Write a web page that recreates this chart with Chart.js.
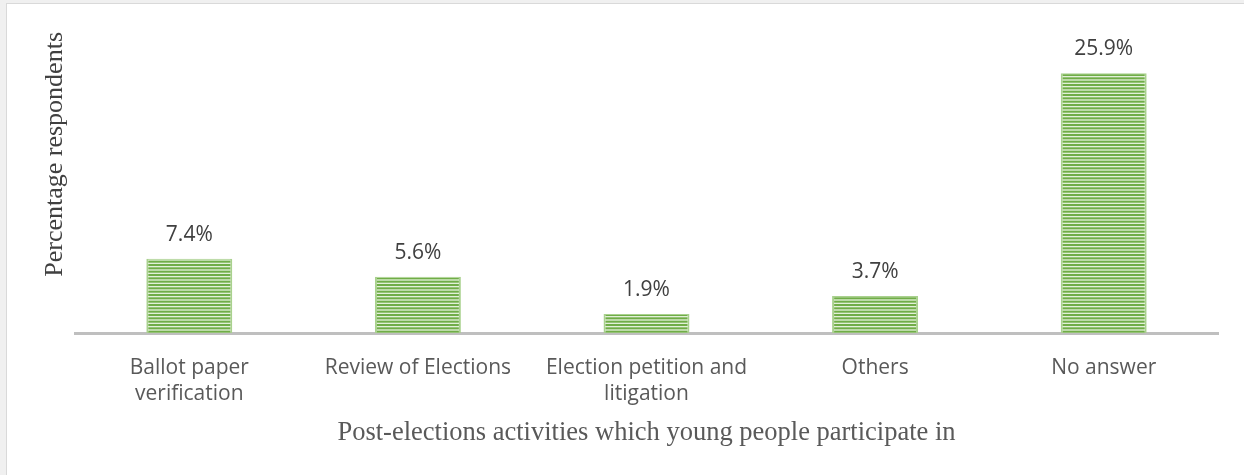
<!DOCTYPE html>
<html>
<head>
<meta charset="utf-8">
<script src="https://cdn.jsdelivr.net/npm/chart.js@4/dist/chart.umd.min.js"></script>
<style>
  html, body { margin: 0; padding: 0; background: #f0f0f0; overflow: hidden; }
  #panel {
    position: absolute; left: 6px; top: 3px;
    width: 1240px; height: 474px;
    background: #fff;
    border-left: 1px solid #d9d9d9; border-top: 1px solid #d9d9d9;
  }
  #chart { display: block; }
</style>
</head>
<body>
<div id="panel"><canvas id="chart" width="1237" height="471"></canvas></div>
<script>
const categories = [
  ["Ballot paper", "verification"],
  "Review of Elections",
  ["Election petition and", "litigation"],
  "Others",
  "No answer"
];
const shares = [7.4, 5.6, 1.9, 3.7, 25.9];

const yTitle = "Percentage respondents";
const xTitle = "Post-elections activities which young people participate in";

// horizontal stripe fill for the bars
function stripes() {
  const c = document.createElement("canvas");
  c.width = 8; c.height = 10;
  const g = c.getContext("2d");
  g.fillStyle = "#e2f0d9";
  g.fillRect(0, 0, 8, 10);
  g.fillStyle = "#70ad47";
  [0, 3.33, 6.67].forEach(y => g.fillRect(0, y, 8, 2));
  return g.createPattern(c, "repeat");
}

const valueLabels = {
  id: "valueLabels",
  afterDatasetsDraw(chart) {
    const ctx = chart.ctx;
    const meta = chart.getDatasetMeta(0);
    ctx.save();
    ctx.font = "21px 'Open Sans'";
    ctx.fillStyle = "#404040";
    ctx.textAlign = "center";
    ctx.textBaseline = "alphabetic";
    meta.data.forEach((bar, i) => {
      ctx.fillText(shares[i].toFixed(1) + "%", bar.x, bar.y - 18);
    });
    ctx.restore();
  }
};

new Chart(document.getElementById("chart"), {
  type: "bar",
  data: {
    labels: categories,
    datasets: [{
      data: shares,
      backgroundColor: stripes(),
      borderColor: "#a9d18e",
      borderWidth: { left: 2, right: 2, top: 1, bottom: 0 },
      borderSkipped: "bottom",
      barPercentage: 0.376,
      categoryPercentage: 1
    }]
  },
  options: {
    responsive: false,
    animation: false,
    events: [],
    layout: { padding: { top: 28, right: 26, left: 0, bottom: 0 } },
    plugins: { legend: { display: false }, tooltip: { enabled: false } },
    scales: {
      x: {
        grid: { display: false },
        border: { display: true, color: "#bfbfbf", width: 3 },
        ticks: {
          color: "#595959",
          font: { family: "'Open Sans'", size: 21, lineHeight: 1.24 },
          padding: 14,
          maxRotation: 0,
          autoSkip: false
        },
        title: {
          display: true,
          text: xTitle,
          color: "#595959",
          font: { family: "'Liberation Serif'", size: 26.5, lineHeight: 1.2 },
          padding: { top: 0, bottom: 26 }
        },
        afterFit(s) { s.height = 142; }
      },
      y: {
        min: 0,
        max: 30,
        grid: { display: false },
        border: { display: false },
        ticks: { display: false },
        title: {
          display: true,
          text: yTitle,
          align: "end",
          color: "#404040",
          font: { family: "'Liberation Serif'", size: 26, lineHeight: 1.2 },
          padding: { top: 33, bottom: 0 }
        },
        afterFit(s) { s.width = 68; }
      }
    }
  },
  plugins: [valueLabels]
});
</script>
</body>
</html>
